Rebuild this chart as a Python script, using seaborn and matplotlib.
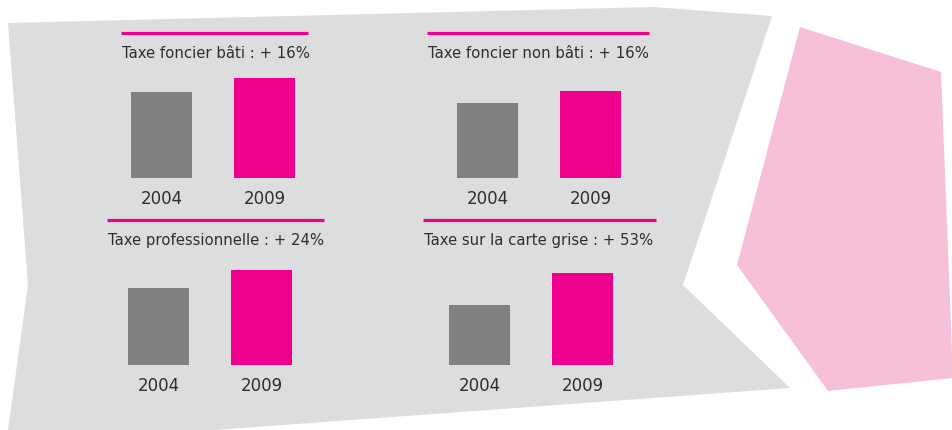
import matplotlib
matplotlib.use("Agg")
import matplotlib.pyplot as plt
from matplotlib.patches import Polygon
import seaborn as sns
import pandas as pd

# Data
years = ["2004", "2009"]
titles = [
    "Taxe foncier bâti",
    "Taxe foncier non bâti",
    "Taxe professionnelle",
    "Taxe sur la carte grise",
]
growth_pct = [16, 16, 24, 53]
values_2004 = [86, 75, 77, 60]
values_2009 = [100, 87, 95, 92]

GREY_BAR = "#808183"
MAGENTA = "#EC008C"
PANEL_BG = "#DCDDDF"
PINK_BG = "#F7C0D9"
TEXT = "#2E2E2E"

W, H = 952, 430
sns.set_theme(style="white")
plt.rcParams["font.family"] = ["DejaVu Sans"]

fig = plt.figure(figsize=(W / 100, H / 100), dpi=100)
fig.patch.set_facecolor("white")

# Background shapes in pixel coordinates
bg = fig.add_axes([0, 0, 1, 1])
bg.set_xlim(0, W)
bg.set_ylim(H, 0)
bg.set_axis_off()
grey_shape = [(8, 23), (653, 7), (772, 16), (683, 285), (790, 388),
              (214, 430), (8, 445), (8, 430), (28, 285)]
pink_shape = [(800, 27), (941, 72), (953, 378), (828, 391), (737, 265)]
bg.add_patch(Polygon(grey_shape, closed=True, facecolor=PANEL_BG, edgecolor="none"))
bg.add_patch(Polygon(pink_shape, closed=True, facecolor=PINK_BG, edgecolor="none"))

# Panel layout: (axes left px, bar baseline px, rule x0, rule x1, rule y, title x, title y)
layout = [
    (110, 178, 121, 308, 33, 215.5, 53),
    (436, 178, 427, 649, 33, 538, 53),
    (107, 365, 107, 324, 220, 216.5, 240.5),
    (428, 365, 423, 656, 220, 539, 240.5),
]

AX_W, AX_H = 206, 110
for i, (left, base, rx0, rx1, ry, tx, ty) in enumerate(layout):
    bg.plot([rx0, rx1], [ry, ry], color=MAGENTA, lw=2.3, solid_capstyle="butt")
    bg.text(tx, ty, f"{titles[i]} : + {growth_pct[i]}%", ha="center", va="center",
            fontsize=10.7, color=TEXT)

    ax = fig.add_axes([left / W, (H - base) / H, AX_W / W, AX_H / H])
    df = pd.DataFrame({"year": years, "value": [values_2004[i], values_2009[i]]})
    sns.barplot(data=df, x="year", y="value", hue="year",
                palette=[GREY_BAR, MAGENTA], width=0.592, legend=False,
                saturation=1, linewidth=0, edgecolor="none", ax=ax)
    ax.set_xlim(-0.5, 1.5)
    ax.set_ylim(0, AX_H)
    ax.patch.set_alpha(0)
    for s in ax.spines.values():
        s.set_visible(False)
    ax.set_yticks([])
    ax.set_xlabel("")
    ax.set_ylabel("")
    ax.tick_params(axis="x", length=0, pad=8.5, labelsize=12, labelcolor=TEXT)

fig.savefig("out.png", dpi=100, facecolor="white")
